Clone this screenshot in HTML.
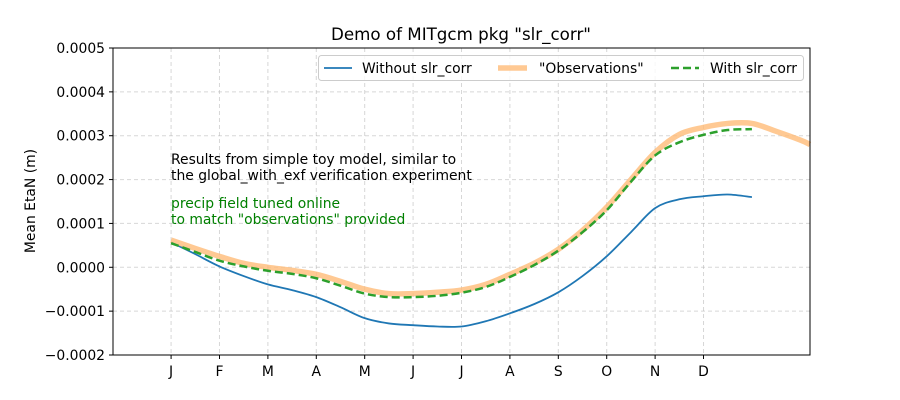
<!DOCTYPE html>
<html><head><meta charset="utf-8"><style>
body{margin:0;background:#fff;}
svg{display:block;font-family:"DejaVu Sans","Liberation Sans",sans-serif;}
</style></head><body>
<svg id="chart" width="900" height="400" viewBox="0 0 900 400">
<g id="grid"></g>
<g id="series"></g>
<rect x="113" y="48" width="697" height="307" fill="none" stroke="#000" stroke-width="1"/>
<g id="axes"></g>
<text x="461" y="40" text-anchor="middle" font-size="16.7">Demo of MITgcm pkg "slr_corr"</text>
<text transform="translate(35,201) rotate(-90)" text-anchor="middle" font-size="13.9">Mean EtaN (m)</text>
<text x="171" y="164" font-size="13.9">Results from simple toy model, similar to</text>
<text x="171" y="180" font-size="13.9">the global_with_exf verification experiment</text>
<text x="171" y="208" font-size="13.9" fill="#008000">precip field tuned online</text>
<text x="171" y="224" font-size="13.9" fill="#008000">to match "observations" provided</text>
<g>
<rect x="318.5" y="55.5" width="485" height="25" rx="3" fill="#fff" fill-opacity="0.8" stroke="#ccc"/>
<line x1="324" y1="68" x2="352" y2="68" stroke="#1f77b4" stroke-width="1.8"/>
<text x="362" y="73" font-size="13.9">Without slr_corr</text>
<line x1="498" y1="68" x2="527" y2="68" stroke="#ffbb78" stroke-opacity="0.8" stroke-width="5.5"/>
<text x="539" y="73" font-size="13.9">"Observations"</text>
<line x1="671" y1="68" x2="699" y2="68" stroke="#2ca02c" stroke-width="2.5" stroke-dasharray="8,4"/>
<text x="710" y="73" font-size="13.9">With slr_corr</text>
</g>
</svg>
<script>
const months = ["J","F","M","A","M","J","J","A","S","O","N","D"];
const yTicks = [-0.0002,-0.0001,0,0.0001,0.0002,0.0003,0.0004,0.0005];
const yTickLabels = ["\u22120.0002","\u22120.0001","0.0000","0.0001","0.0002","0.0003","0.0004","0.0005"];
const xWithout = [0,0.5,1,1.5,2,2.5,3,3.5,4,4.5,5,5.5,6,6.5,7,7.5,8,8.5,9,9.5,10,10.5,11,11.5,12];
const without = [0.57,0.30,0.02,-0.2,-0.39,-0.52,-0.68,-0.91,-1.16,-1.28,-1.32,-1.35,-1.35,-1.23,-1.05,-0.84,-0.57,-0.2,0.25,0.8,1.35,1.55,1.62,1.66,1.6];
const xObs = [0,0.5,1,1.5,2,2.5,3,3.5,4,4.5,5,5.5,6,6.5,7,7.5,8,8.5,9,9.5,10,10.5,11,11.5,12,12.5,13,13.2];
const observations = [0.62,0.43,0.25,0.09,0,-0.07,-0.16,-0.32,-0.5,-0.6,-0.6,-0.57,-0.52,-0.39,-0.16,0.09,0.41,0.84,1.37,2.0,2.62,3.03,3.19,3.28,3.28,3.1,2.9,2.8];
const xWith = [0,0.5,1,1.5,2,2.5,3,3.5,4,4.5,5,5.5,6,6.5,7,7.5,8,8.5,9,9.5,10,10.5,11,11.5,12];
const withCorr = [0.55,0.35,0.15,0.02,-0.08,-0.15,-0.25,-0.42,-0.6,-0.68,-0.68,-0.65,-0.58,-0.45,-0.22,0.05,0.38,0.8,1.3,1.95,2.55,2.85,3.02,3.13,3.15];
const scaleE = 1e-4;

const NS="http://www.w3.org/2000/svg";
const X0=113,X1=810,Y0=355,Y1=48,XMIN=-1.2,XMAX=13.2,YMIN=-0.0002,YMAX=0.0005;
function xs(v){return X0+(v-XMIN)/(XMAX-XMIN)*(X1-X0);}
function ys(v){return Y0-(v-YMIN)/(YMAX-YMIN)*(Y0-Y1);}
function mk(t,a,p){const e=document.createElementNS(NS,t);for(const k in a)e.setAttribute(k,a[k]);p.appendChild(e);return e;}
const grid=document.getElementById('grid'),axes=document.getElementById('axes'),ser=document.getElementById('series');
months.forEach((m,i)=>{
  const x=xs(i);
  const g=mk('line',{x1:x,x2:x,y1:Y1,y2:Y0,stroke:'#b0b0b0','stroke-opacity':0.5,'stroke-dasharray':'4,3'},grid);
  
  
  const t=mk('line',{x1:x,x2:x,y1:Y0,y2:Y0+4,stroke:'#000'},axes);
  
  
  const l=mk('text',{x:x,y:Y0+21,'text-anchor':'middle','font-size':13.9},axes);
  l.textContent=m;
  
  
});
yTicks.forEach((v,i)=>{
  const y=ys(v);
  const g=mk('line',{x1:X0,x2:X1,y1:y,y2:y,stroke:'#b0b0b0','stroke-opacity':0.5,'stroke-dasharray':'4,3'},grid);
  
  
  const t=mk('line',{x1:X0-4,x2:X0,y1:y,y2:y,stroke:'#000'},axes);
  
  
  const l=mk('text',{x:X0-8,y:y+5,'text-anchor':'end','font-size':13.9},axes);
  l.textContent=yTickLabels[i];
  
  
});
function path(xa,ya){
  const p=xa.map((x,i)=>[xs(x),ys(ya[i]*scaleE)]);
  let d='M'+p[0][0]+','+p[0][1];
  for(let i=0;i<p.length-1;i++){
    const a=p[i-1]||p[i],b=p[i],c=p[i+1],e=p[i+2]||c;
    d+=' C'+(b[0]+(c[0]-a[0])/6)+','+(b[1]+(c[1]-a[1])/6)+' '+(c[0]-(e[0]-b[0])/6)+','+(c[1]-(e[1]-b[1])/6)+' '+c[0]+','+c[1];
  }
  return d;
}
const p1=mk('path',{d:path(xWithout,without),fill:'none',stroke:'#1f77b4','stroke-width':1.8},ser);


const p2=mk('path',{d:path(xObs,observations),fill:'none',stroke:'#ffbb78','stroke-opacity':0.8,'stroke-width':5.5,'stroke-linecap':'butt'},ser);


const p3=mk('path',{d:path(xWith,withCorr),fill:'none',stroke:'#2ca02c','stroke-width':2.5,'stroke-dasharray':'8,4'},ser);


</script>
</body></html>
